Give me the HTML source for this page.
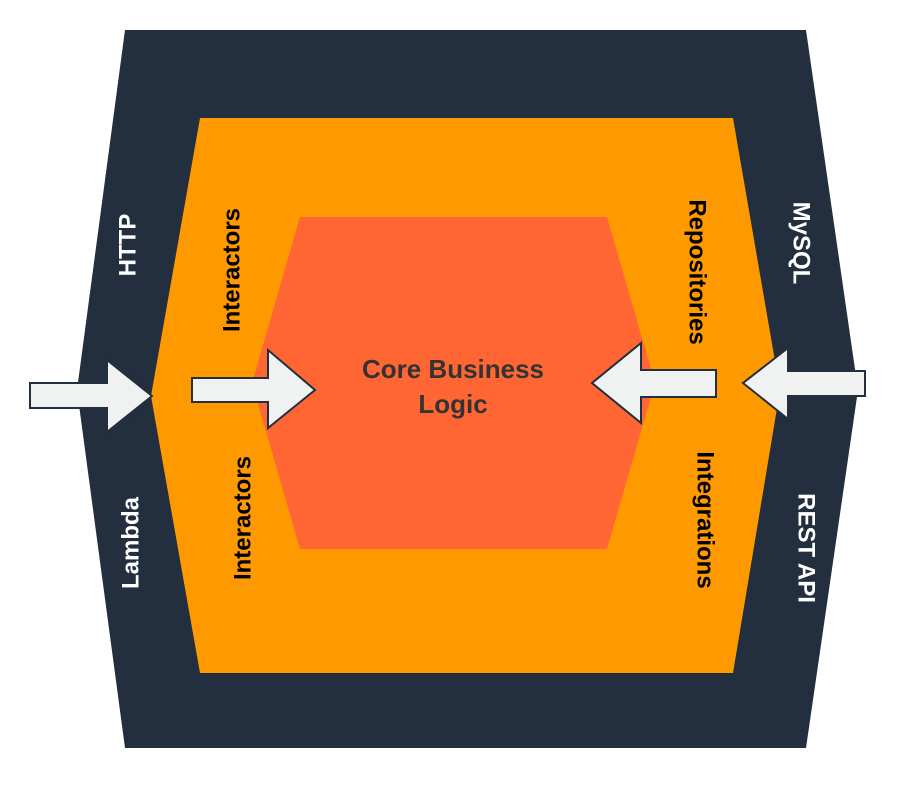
<!DOCTYPE html>
<html><head><style>body{margin:0;background:#fff}</style></head><body>
<svg width="918" height="787" xmlns="http://www.w3.org/2000/svg" font-family="Liberation Sans, sans-serif" font-weight="bold">
<polygon points="125,30 806,30 858,390 806,748 125,748 77,390" fill="#232f3e"/>
<polygon points="200,118 733,118 780,390 733,673 200,673 151,396" fill="#ff9900"/>
<polygon points="300,217 607,217 655,383 607,549 300,549 252,383" fill="#ff6633"/>
<g fill="#f0f1f1" stroke="#232f3e" stroke-width="2">
<polygon points="30,383 107,383 107,360 152,396 107,432 107,408 30,408"/>
<polygon points="192,378 268,378 268,350 315,390 268,428 268,402 192,402"/>
<polygon points="716,370 641,370 641,343 592,383 641,423 641,397 716,397"/>
<polygon points="865,371 788,371 788,348 743,383 788,419 788,396 865,396"/>
</g>
<g font-size="24" text-anchor="middle" dominant-baseline="central">
<text transform="translate(128,245) rotate(-90)" fill="#fff">HTTP</text>
<text transform="translate(131,543) rotate(-90)" fill="#fff">Lambda</text>
<text transform="translate(801,243) rotate(90)" fill="#fff">MySQL</text>
<text transform="translate(806,548) rotate(90)" fill="#fff">REST API</text>
<text transform="translate(232,270) rotate(-90)" fill="#000">Interactors</text>
<text transform="translate(243,518) rotate(-90)" fill="#000">Interactors</text>
<text transform="translate(697,272) rotate(90)" fill="#000">Repositories</text>
<text transform="translate(705,520) rotate(90)" fill="#000">Integrations</text>
</g>
<g font-size="26" text-anchor="middle" fill="#333">
<text x="453" y="378">Core Business</text>
<text x="453" y="413">Logic</text>
</g>
</svg>
</body></html>
